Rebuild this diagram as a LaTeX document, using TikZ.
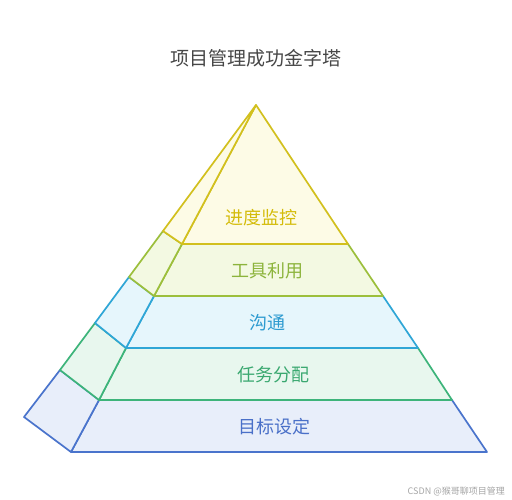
\documentclass[tikz,border=0pt]{standalone}
\usepackage{fontspec}
\setmainfont{Noto Sans CJK SC}
\definecolor{cTop}{HTML}{D2C01E}
\definecolor{fTop}{HTML}{FDFBE6}
\definecolor{tTop}{HTML}{D4BC0A}
\definecolor{cTool}{HTML}{9CBF3C}
\definecolor{fTool}{HTML}{F3F9E2}
\definecolor{tTool}{HTML}{8CB43C}
\definecolor{cComm}{HTML}{2FA6D6}
\definecolor{fComm}{HTML}{E6F6FC}
\definecolor{tComm}{HTML}{2C9AD0}
\definecolor{cTask}{HTML}{3DB47A}
\definecolor{fTask}{HTML}{E8F7EE}
\definecolor{tTask}{HTML}{3AA870}
\definecolor{cGoal}{HTML}{4A74CC}
\definecolor{fGoal}{HTML}{E8EEFA}
\definecolor{tGoal}{HTML}{4A70C8}
\tikzset{
  layer/.style={line width=1.7pt, line join=round},
  lbl/.style={font=\fontsize{18}{20}\selectfont, inner sep=0pt},
}
\begin{document}
\begin{tikzpicture}[x=1pt,y=-1pt]
\useasboundingbox (0,0) rectangle (512,500);
\fill[white] (0,0) rectangle (512,500);
% key points
\coordinate (A) at (256,105);
\coordinate (F1l) at (182,244); \coordinate (F1r) at (348,244); \coordinate (B1) at (163,231);
\coordinate (F2l) at (154,296); \coordinate (F2r) at (383,296); \coordinate (B2) at (129,277);
\coordinate (F3l) at (126,348); \coordinate (F3r) at (418,348); \coordinate (B3) at (95,323);
\coordinate (F4l) at (99,400);  \coordinate (F4r) at (452,400); \coordinate (B4) at (60,370);
\coordinate (F5l) at (71,452);  \coordinate (F5r) at (487,452); \coordinate (B5) at (24,417);
% goal
\draw[layer, draw=cGoal, fill=fGoal] (F4l) -- (F4r) -- (F5r) -- (F5l) -- cycle;
\draw[layer, draw=cGoal, fill=fGoal] (B4) -- (F4l) -- (F5l) -- (B5) -- cycle;
% task
\draw[layer, draw=cTask, fill=fTask] (F3l) -- (F3r) -- (F4r) -- (F4l) -- cycle;
\draw[layer, draw=cTask, fill=fTask] (B3) -- (F3l) -- (F4l) -- (B4) -- cycle;
% communication
\draw[layer, draw=cComm, fill=fComm] (F2l) -- (F2r) -- (F3r) -- (F3l) -- cycle;
\draw[layer, draw=cComm, fill=fComm] (B2) -- (F2l) -- (F3l) -- (B3) -- cycle;
% tools
\draw[layer, draw=cTool, fill=fTool] (F1l) -- (F1r) -- (F2r) -- (F2l) -- cycle;
\draw[layer, draw=cTool, fill=fTool] (B1) -- (F1l) -- (F2l) -- (B2) -- cycle;
% top
\draw[layer, draw=cTop, fill=fTop] (A) -- (F1r) -- (F1l) -- cycle;
\draw[layer, draw=cTop, fill=fTop] (A) -- (F1l) -- (B1) -- cycle;
% labels
\node[lbl, text=tTop]  (l1) at (261,218) {进度监控};
\node[lbl, text=tTool] (l2) at (267,271) {工具利用};
\node[lbl, text=tComm] (l3) at (267,323) {沟通};
\node[lbl, text=tTask] (l4) at (273,375) {任务分配};
\node[lbl, text=tGoal] (l5) at (274,427) {目标设定};
% title
\node[inner sep=0pt, text=black!72, font=\fontsize{19}{21}\selectfont] (title) at (256,58) {项目管理成功金字塔};
% watermark
\node[inner sep=0pt, text=black!35, font=\fontsize{9}{10}\selectfont, anchor=east] (wm) at (505,491) {CSDN @猴哥聊项目管理};
\end{tikzpicture}
\end{document}
